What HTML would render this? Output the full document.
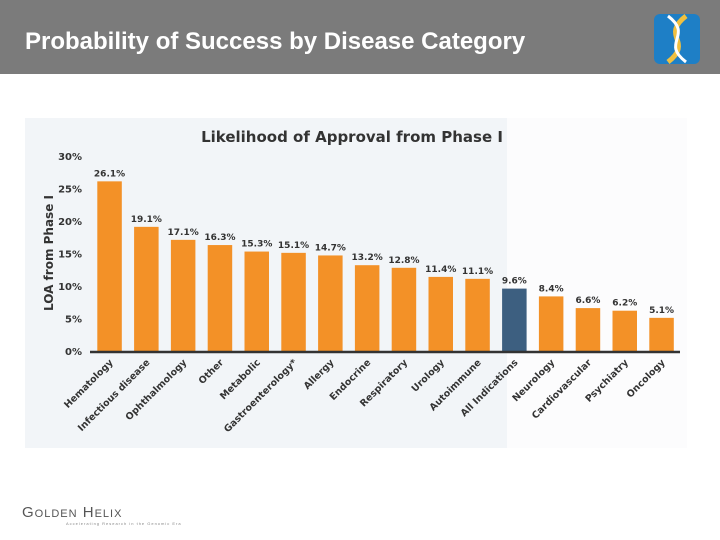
<!DOCTYPE html>
<html><head><meta charset="utf-8"><style>
body{margin:0;width:720px;height:540px;overflow:hidden;background:#fff;font-family:"Liberation Sans",sans-serif}
.hdr{position:absolute;left:0;top:0;width:720px;height:74px;background:#7b7b7b}
.hdr h1{position:absolute;left:25px;top:28px;margin:0;font-size:24px;color:#fff;font-weight:bold;white-space:nowrap}
svg text{font-family:"DejaVu Sans",sans-serif}
</style></head><body>
<div class="hdr"><h1>Probability of Success by Disease Category</h1>
<svg style="position:absolute;left:654px;top:12px" width="48" height="56"><rect x="0" y="2" width="46" height="50" rx="6" fill="#1e7fc6"/><path d="M14 50 C40 30 6 24 32 4" stroke="#f0c040" stroke-width="5" fill="none"/><path d="M32 50 C6 30 40 24 14 4" stroke="#fff" stroke-width="3" fill="none"/></svg>
</div>
<svg id="chart" style="position:absolute;left:0;top:0" width="720" height="540">
<rect x="25" y="118" width="482" height="330" fill="#f2f5f8"/>
<rect x="507" y="118" width="180" height="330" fill="#fcfcfd"/>
<text x="352" y="142" text-anchor="middle" font-size="15" font-weight="bold" fill="#333">Likelihood of Approval from Phase I</text>
<text transform="translate(53,253) rotate(-90)" text-anchor="middle" font-size="12" font-weight="bold" fill="#333">LOA from Phase I</text>
<g id="g"></g>
</svg>
<div style="position:absolute;left:22px;top:504px;font-size:15px;color:#555;letter-spacing:1px">G<span style="font-size:11px">OLDEN</span> H<span style="font-size:11px">ELIX</span><div style="font-size:4px;color:#888;margin-left:44px">Accelerating Research in the Genomic Era</div></div>
<script>
const categories=["Hematology","Infectious disease","Ophthalmology","Other","Metabolic","Gastroenterology*","Allergy","Endocrine","Respiratory","Urology","Autoimmune","All Indications","Neurology","Cardiovascular","Psychiatry","Oncology"];
const values=[26.1,19.1,17.1,16.3,15.3,15.1,14.7,13.2,12.8,11.4,11.1,9.6,8.4,6.6,6.2,5.1];
const yTicks=[0,5,10,15,20,25,30];
const ns="http://www.w3.org/2000/svg",g=document.getElementById('g');
const y=v=>351-v*6.5, x=i=>97.3+i*36.8, bw=24.5;
function mk(t,a,txt){const e=document.createElementNS(ns,t);for(const k in a)e.setAttribute(k,a[k]);if(txt!=null)e.textContent=txt;g.appendChild(e);return e;}
yTicks.forEach(t=>{const e=mk('text',{x:82,y:y(t)+4,'text-anchor':'end','font-size':10,'font-weight':'bold',fill:'#333'},t+'%');

});
values.forEach((v,i)=>{
const r=mk('rect',{x:x(i),y:y(v),width:bw,height:y(0)-y(v),fill:i==11?'#3d5f80':'#f39127'});


const l=mk('text',{x:x(i)+bw/2,y:y(v)-5,'text-anchor':'middle','font-size':9,'font-weight':'bold',fill:'#333'},v.toFixed(1)+'%');


const c=mk('text',{transform:`translate(${x(i)+bw/2+4},${y(0)+12}) rotate(-45)`,'text-anchor':'end','font-size':9.5,'font-weight':'bold',fill:'#333'},categories[i]);


});
const ax=mk('line',{x1:90,x2:680,y1:y(0)+1,y2:y(0)+1,stroke:'#333','stroke-width':2.5});


</script>
</body></html>
